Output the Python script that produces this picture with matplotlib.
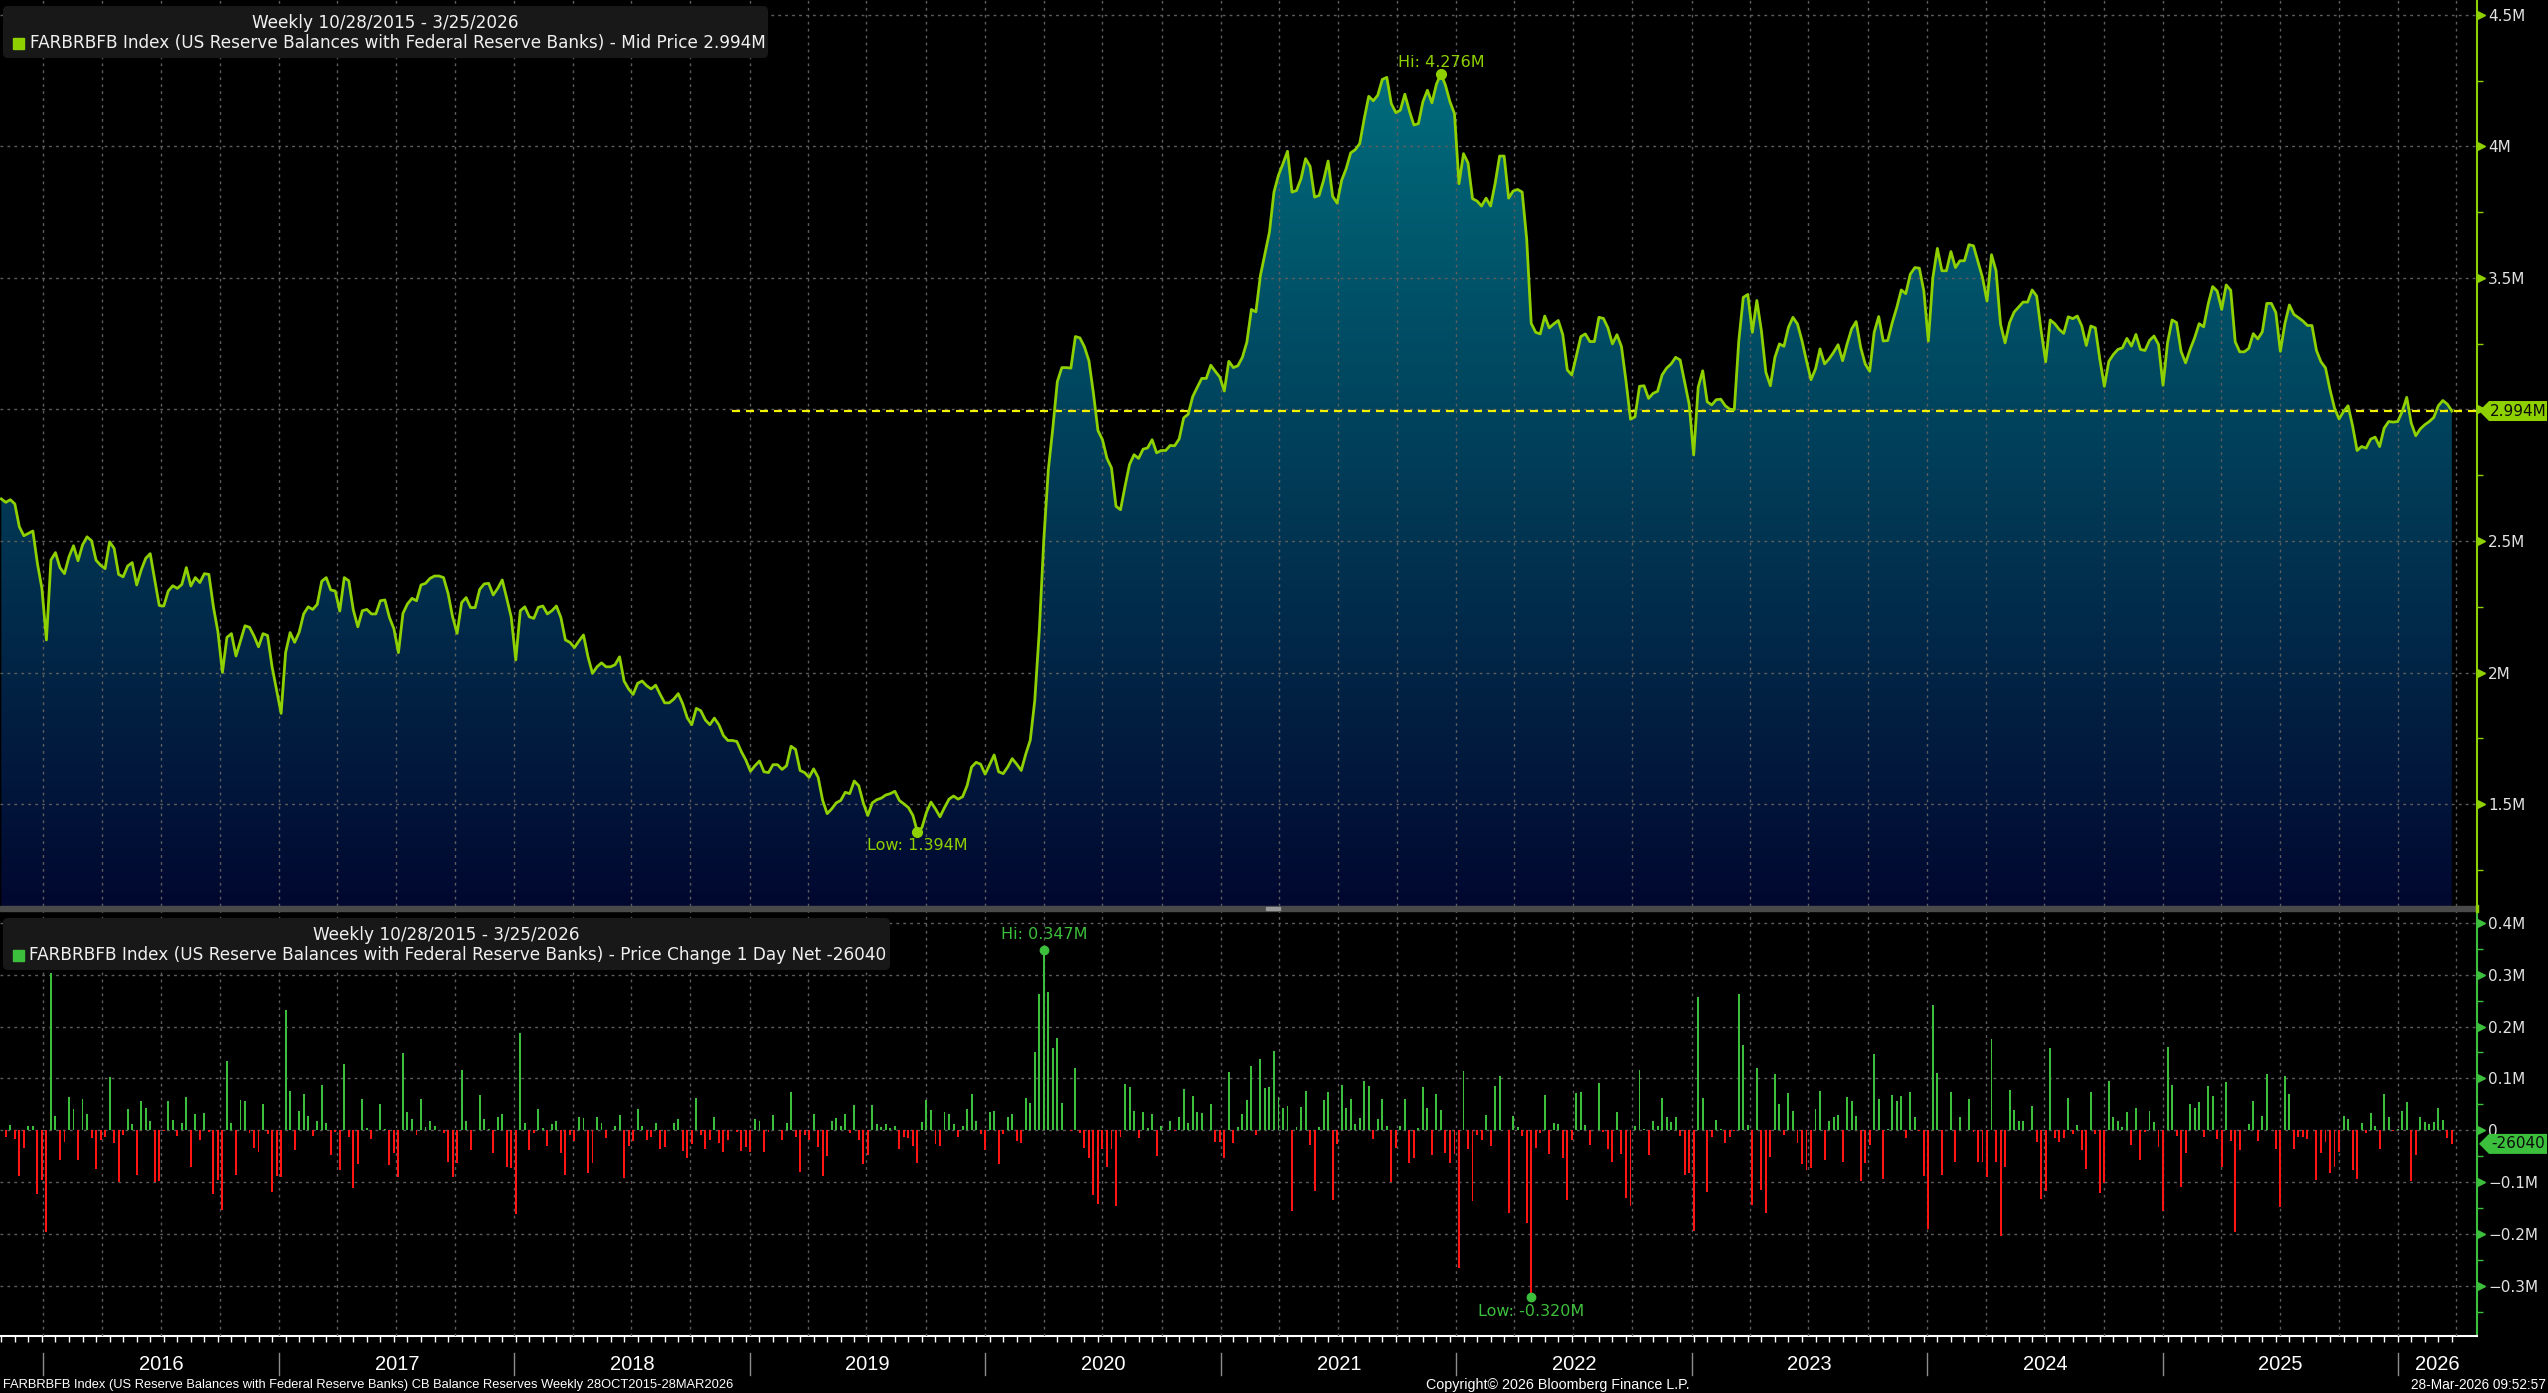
import numpy as np
import pandas as pd
import matplotlib
matplotlib.use("Agg")
import matplotlib.pyplot as plt
import matplotlib.dates as mdates
from matplotlib.colors import LinearSegmentedColormap
from matplotlib.patches import FancyBboxPatch, Rectangle, Polygon
from matplotlib.transforms import IdentityTransform
from matplotlib.ticker import FixedLocator, MultipleLocator

# weekly reserve balances (M = million millions)
reserves_2015_2018 = [
    2.660, 2.647, 2.657, 2.641, 2.554, 2.520, 2.529, 2.538, 2.415, 2.320,
    2.124, 2.428, 2.456, 2.399, 2.376, 2.440, 2.482, 2.425, 2.485, 2.516,
    2.501, 2.427, 2.408, 2.395, 2.497, 2.472, 2.373, 2.364, 2.405, 2.418,
    2.333, 2.390, 2.434, 2.452, 2.352, 2.255, 2.253, 2.310, 2.330, 2.320,
    2.335, 2.399, 2.329, 2.361, 2.342, 2.376, 2.373, 2.250, 2.155, 2.001,
    2.134, 2.148, 2.063, 2.121, 2.178, 2.172, 2.139, 2.098, 2.148, 2.141,
    2.022, 1.934, 1.845, 2.076, 2.152, 2.115, 2.153, 2.223, 2.250, 2.240,
    2.259, 2.347, 2.361, 2.314, 2.310, 2.234, 2.361, 2.349, 2.238, 2.174,
    2.235, 2.240, 2.223, 2.223, 2.273, 2.276, 2.210, 2.166, 2.076, 2.225,
    2.261, 2.282, 2.273, 2.333, 2.339, 2.358, 2.367, 2.367, 2.361, 2.301,
    2.212, 2.149, 2.266, 2.285, 2.247, 2.247, 2.316, 2.337, 2.339, 2.295,
    2.320, 2.352, 2.282, 2.210, 2.048, 2.235, 2.250, 2.212, 2.206, 2.248,
    2.253, 2.223, 2.235, 2.253, 2.209, 2.124, 2.115, 2.095, 2.120, 2.143,
    2.060, 1.997, 2.022, 2.037, 2.022, 2.022, 2.030, 2.060,
]
reserves_2018_2021 = [
    1.968, 1.938, 1.917, 1.959, 1.968, 1.950, 1.938, 1.952, 1.917, 1.885,
    1.885, 1.899, 1.920, 1.881, 1.828, 1.802, 1.864, 1.855, 1.820, 1.802,
    1.827, 1.802, 1.761, 1.742, 1.742, 1.738, 1.699, 1.667, 1.625, 1.646,
    1.664, 1.623, 1.620, 1.650, 1.650, 1.632, 1.646, 1.720, 1.708, 1.628,
    1.620, 1.602, 1.634, 1.602, 1.514, 1.464, 1.482, 1.505, 1.514, 1.545,
    1.540, 1.588, 1.570, 1.505, 1.457, 1.505, 1.517, 1.523, 1.535, 1.540,
    1.549, 1.514, 1.501, 1.487, 1.457, 1.394, 1.411, 1.469, 1.508, 1.482,
    1.452, 1.487, 1.519, 1.531, 1.519, 1.528, 1.570, 1.641, 1.659, 1.652,
    1.614, 1.650, 1.687, 1.623, 1.616, 1.641, 1.673, 1.652, 1.628, 1.690,
    1.743, 1.894, 2.157, 2.504, 2.770, 2.929, 3.106, 3.159, 3.159, 3.157,
    3.277, 3.272, 3.238, 3.185, 3.061, 2.920, 2.885, 2.814, 2.778, 2.632,
    2.619, 2.708, 2.791, 2.828, 2.814, 2.849, 2.854, 2.885, 2.835, 2.844,
    2.844, 2.863, 2.862, 2.888, 2.968, 2.982, 3.049, 3.084, 3.118, 3.118,
    3.168, 3.145, 3.123, 3.070, 3.183, 3.159, 3.166, 3.198, 3.256, 3.380,
    3.371,
]
reserves_2021_2023 = [
    3.509, 3.591, 3.674, 3.826, 3.890, 3.934, 3.981, 3.826, 3.832, 3.877,
    3.953, 3.924, 3.807, 3.813, 3.871, 3.944, 3.810, 3.784, 3.871, 3.915,
    3.975, 3.987, 4.010, 4.105, 4.190, 4.173, 4.194, 4.254, 4.262, 4.162,
    4.128, 4.137, 4.198, 4.135, 4.081, 4.086, 4.169, 4.213, 4.165, 4.236,
    4.276, 4.232, 4.169, 4.124, 3.858, 3.972, 3.937, 3.801, 3.792, 3.773,
    3.803, 3.773, 3.858, 3.963, 3.963, 3.803, 3.830, 3.836, 3.826, 3.647,
    3.327, 3.293, 3.287, 3.355, 3.310, 3.325, 3.338, 3.284, 3.150, 3.131,
    3.203, 3.277, 3.287, 3.258, 3.258, 3.350, 3.346, 3.310, 3.249, 3.284,
    3.239, 3.109, 2.963, 2.972, 3.088, 3.090, 3.042, 3.061, 3.069, 3.131,
    3.157, 3.173, 3.198, 3.188, 3.103, 3.020, 2.827, 3.084, 3.147, 3.029,
    3.017, 3.037, 3.039, 3.014, 3.001, 2.999, 3.261, 3.426, 3.437, 3.293,
    3.414, 3.300, 3.141, 3.090, 3.198, 3.249, 3.240, 3.312, 3.350, 3.325,
    3.261, 3.185, 3.113, 3.154, 3.230, 3.173, 3.192, 3.217, 3.246, 3.185,
    3.249, 3.306, 3.334, 3.236, 3.173, 3.145, 3.293, 3.353,
]
reserves_2023_2026 = [
    3.260, 3.262, 3.330, 3.387, 3.454, 3.440, 3.514, 3.539, 3.537, 3.450,
    3.260, 3.501, 3.612, 3.527, 3.527, 3.600, 3.539, 3.565, 3.565, 3.626,
    3.622, 3.562, 3.501, 3.412, 3.588, 3.527, 3.323, 3.253, 3.330, 3.370,
    3.389, 3.408, 3.408, 3.454, 3.431, 3.298, 3.181, 3.340, 3.326, 3.304,
    3.289, 3.352, 3.345, 3.355, 3.317, 3.243, 3.317, 3.310, 3.190, 3.088,
    3.183, 3.209, 3.228, 3.234, 3.270, 3.241, 3.285, 3.228, 3.224, 3.262,
    3.279, 3.247, 3.092, 3.253, 3.340, 3.330, 3.221, 3.177, 3.228, 3.272,
    3.326, 3.314, 3.400, 3.467, 3.450, 3.380, 3.473, 3.453, 3.257, 3.219,
    3.219, 3.232, 3.288, 3.268, 3.295, 3.403, 3.403, 3.368, 3.221, 3.326,
    3.397, 3.361, 3.349, 3.336, 3.319, 3.319, 3.224, 3.181, 3.158, 3.075,
    3.005, 2.964, 2.992, 3.014, 2.938, 2.844, 2.859, 2.853, 2.887, 2.895,
    2.859, 2.929, 2.954, 2.952, 2.954, 2.992, 3.046, 2.948, 2.900, 2.926,
    2.942, 2.954, 2.970, 3.014, 3.034, 3.02004, 2.994,
]

start_date = "2015-10-28"
range_text = "Weekly 10/28/2015 - 3/25/2026"
top_name = "FARBRBFB Index (US Reserve Balances with Federal Reserve Banks) - Mid Price"
bottom_name = "FARBRBFB Index (US Reserve Balances with Federal Reserve Banks) - Price Change 1 Day Net"
footer_left = ("FARBRBFB Index (US Reserve Balances with Federal Reserve Banks) "
               "CB Balance Reserves Weekly 28OCT2015-28MAR2026")
footer_mid = "Copyright\u00a9 2026 Bloomberg Finance L.P."
footer_right = "28-Mar-2026 09:52:57"
years = [2016, 2017, 2018, 2019, 2020, 2021, 2022, 2023, 2024, 2025, 2026]
top_ticks = [1.5, 2.0, 2.5, 3.0, 3.5, 4.0, 4.5]
# the 3M label sits under the last-price tag in the original
top_tick_labels = ["1.5M", "2M", "2.5M", "", "3.5M", "4M", "4.5M"]
bot_ticks = [-0.3, -0.2, -0.1, 0.0, 0.1, 0.2, 0.3, 0.4]
bot_tick_labels = ["\u22120.3M", "\u22120.2M", "\u22120.1M", "0", "0.1M", "0.2M", "0.3M", "0.4M"]

W, H = 2548, 1393
LIME = "#8fd100"
GREEN = "#3cbf3c"
RED = "#ff1414"
GRID = "#5e5e5e"
NARROW = ["Liberation Sans Narrow", "Liberation Sans", "DejaVu Sans"]
plt.rcParams["font.family"] = ["DejaVu Sans"]

reserves = np.array(reserves_2015_2018 + reserves_2018_2021 + reserves_2021_2023 + reserves_2023_2026)
dates = pd.date_range(start_date, periods=len(reserves), freq="7D")
x = mdates.date2num(dates.to_pydatetime())
change = np.diff(reserves)
xc = x[1:]

fig = plt.figure(figsize=(W / 100, H / 100), dpi=100, facecolor="black")


def rect(px0, py0, px1, py1):
    return [px0 / W, 1 - py1 / H, (px1 - px0) / W, (py1 - py0) / H]


ax1 = fig.add_axes(rect(0, 0, 2477, 906))
ax2 = fig.add_axes(rect(0, 911, 2477, 1336))
xlim = mdates.date2num([pd.Timestamp("2015-10-26").to_pydatetime(), pd.Timestamp("2026-05-03").to_pydatetime()])
top_lim = (1.113, 4.556)
bot_lim = (-0.396, 0.4225)

for ax, axis_col in ((ax1, LIME), (ax2, GREEN)):
    ax.set_facecolor("black")
    for s in ("top", "left", "bottom"):
        ax.spines[s].set_visible(False)
    ax.spines["right"].set_color(axis_col)
    ax.spines["right"].set_linewidth(1.5)
    ax.xaxis.set_major_locator(mdates.MonthLocator(bymonth=[1, 4, 7, 10]))
    ax.tick_params(axis="x", which="major", length=0, labelbottom=False)
    ax.yaxis.tick_right()
    ax.tick_params(axis="y", which="major", length=0, pad=8, labelsize=11, labelcolor="#e2e2e2")
    ax.tick_params(axis="y", which="minor", length=4, width=1, color=axis_col)
    ax.grid(True, which="major", color=GRID, linestyle=(0, (2, 3)), linewidth=1)
    ax.set_axisbelow(False)

# top panel: area with gradient
cmap = LinearSegmentedColormap.from_list("fill", ["#020830", "#00707f"])
grad = np.linspace(0, 1, 256).reshape(-1, 1)
im = ax1.imshow(grad, cmap=cmap, origin="lower", aspect="auto", interpolation="bilinear",
                extent=[x[0], x[-1], top_lim[0], 4.4], zorder=1)
area = ax1.fill_between(x, reserves, top_lim[0], color="none")
im.set_clip_path(area.get_paths()[0], transform=ax1.transData)
ax1.plot(x, reserves, color=LIME, lw=2, zorder=4)
last = reserves[-1]
dash_start = mdates.date2num(pd.Timestamp("2018-12-04").to_pydatetime())
ax1.plot([dash_start, xlim[1]], [last, last], color="#f2f200", lw=1.6, dashes=(3.6, 2.7), zorder=3.5)

ax1.set_xlim(xlim)
ax1.set_ylim(top_lim)
ax1.yaxis.set_major_locator(FixedLocator(top_ticks))
ax1.set_yticklabels(top_tick_labels)
ax1.yaxis.set_minor_locator(MultipleLocator(0.25))

hi = int(np.argmax(reserves))
lo = int(np.argmin(reserves))
ax1.plot(x[hi], reserves[hi], "o", ms=7, color=LIME, zorder=5)
ax1.plot(x[lo], reserves[lo], "o", ms=7, color=LIME, zorder=5)
ax1.annotate(f"Hi: {reserves[hi]:.3f}M", (x[hi], reserves[hi]), xytext=(0, 8), textcoords="offset points",
             ha="center", va="center", color=LIME, fontsize=11.5)
ax1.annotate(f"Low: {reserves[lo]:.3f}M", (x[lo], reserves[lo]), xytext=(0, -9.5), textcoords="offset points",
             ha="center", va="center", color=LIME, fontsize=11.5)

# bottom panel: weekly change bars
ax2.bar(xc, change, width=3, color=np.where(change >= 0, GREEN, RED), zorder=3)
ax2.set_xlim(xlim)
ax2.set_ylim(bot_lim)
ax2.yaxis.set_major_locator(FixedLocator(bot_ticks))
ax2.set_yticklabels(bot_tick_labels)
ax2.yaxis.set_minor_locator(MultipleLocator(0.05))
ax2.spines["bottom"].set_visible(True)
ax2.spines["bottom"].set_color("white")
ax2.spines["bottom"].set_linewidth(1.5)
ax2.xaxis.set_minor_locator(FixedLocator(x[::3]))
ax2.tick_params(axis="x", which="minor", length=4, width=1, color="white", direction="out")

chi = int(np.argmax(change))
clo = int(np.argmin(change))
ax2.plot(xc[chi], change[chi], "o", ms=6, color=GREEN, zorder=5)
ax2.plot(xc[clo], change[clo], "o", ms=6, color=GREEN, zorder=5)
ax2.annotate(f"Hi: {change[chi]:.3f}M", (xc[chi], change[chi]), xytext=(0, 11), textcoords="offset points",
             ha="center", va="center", color=GREEN, fontsize=11.5)
ax2.annotate(f"Low: {change[clo]:.3f}M", (xc[clo], change[clo]), xytext=(0, -11), textcoords="offset points",
             ha="center", va="center", color=GREEN, fontsize=11.5)

# right-axis triangles on the major ticks
for ax, ticks, col in ((ax1, top_ticks, LIME), (ax2, bot_ticks, GREEN)):
    ax.plot([1.0017] * len(ticks), ticks, ls="none", marker=">", ms=6, color=col,
            transform=ax.get_yaxis_transform(), clip_on=False, zorder=6)

# year separators and labels
xaxis_tr = ax2.get_xaxis_transform()
jan1 = mdates.date2num([pd.Timestamp(f"{y}-01-01").to_pydatetime() for y in years])
ends = list(jan1[1:]) + [xlim[1]]
for y, x0, x1 in zip(years, jan1, ends):
    ax2.plot([x0, x0], [-0.04, -0.092], transform=xaxis_tr, color="#8c8c8c", lw=1, clip_on=False)
    ax2.text((x0 + x1) / 2, -0.068, str(y), transform=xaxis_tr, ha="center", va="center",
             color="white", fontsize=14.5, family=NARROW)

# separator between panels and the continuous axis line
fig.add_artist(Rectangle((0, H - 911), 2477, 5, transform=IdentityTransform(), color="#4a4a4a"))
fig.add_artist(Rectangle((1266, H - 910), 14, 3, transform=IdentityTransform(), color="#9a9a9a"))
fig.add_artist(Rectangle((2476, H - 912), 1.5, 7, transform=IdentityTransform(), color=LIME))


# legend boxes
def legend_box(px0, py0, px1, py1, line1, line2, sq_col, text_x):
    fig.add_artist(FancyBboxPatch((px0, H - py1), px1 - px0, py1 - py0, boxstyle="round,pad=0,rounding_size=5",
                                  transform=IdentityTransform(), facecolor="#181818", edgecolor="none", zorder=10))
    fig.text((px0 + px1) / 2 / W, 1 - (py0 + 17) / H, line1, ha="center", va="center", color="#f0f0f0",
             fontsize=12.2, zorder=11)
    fig.add_artist(Rectangle((13, H - (py0 + 43)), 11, 11, transform=IdentityTransform(), color=sq_col, zorder=11))
    fig.text(text_x / W, 1 - (py0 + 37) / H, line2, ha="left", va="center", color="#f0f0f0",
             fontsize=12.2, zorder=11)


legend_box(3, 6, 768, 58, range_text, f"{top_name} {last:.3f}M", LIME, 30)
legend_box(3, 918, 890, 970, range_text, f"{bottom_name} {round(change[-1] * 1e6):d}", GREEN, 29)


# last value tags on the right axis
def price_tag(ax, value, label, face):
    yd = ax.transData.transform((x[-1], value))[1]
    pts = [(2479, yd), (2489, yd + 10), (2547, yd + 10), (2547, yd - 10), (2489, yd - 10)]
    fig.add_artist(Polygon(pts, closed=True, transform=IdentityTransform(), facecolor=face, edgecolor="none", zorder=12))
    fig.text(2518 / W, yd / H, label, ha="center", va="center", color="#0c0c0c", fontsize=11, zorder=13)


price_tag(ax1, last, f"{last:.3f}M", LIME)
price_tag(ax2, change[-1], f"{round(change[-1] * 1e6):d}", GREEN)

# footer
fig.text(3 / W, 1 - 1385 / H, footer_left, ha="left", va="center", color="white", fontsize=9.3, family=NARROW)
fig.text(1558 / W, 1 - 1385 / H, footer_mid, ha="center", va="center", color="white", fontsize=10.3, family=NARROW)
fig.text(2546 / W, 1 - 1385 / H, footer_right, ha="right", va="center", color="white", fontsize=9.8, family=NARROW)

fig.savefig("out.png", dpi=100, facecolor="black")
